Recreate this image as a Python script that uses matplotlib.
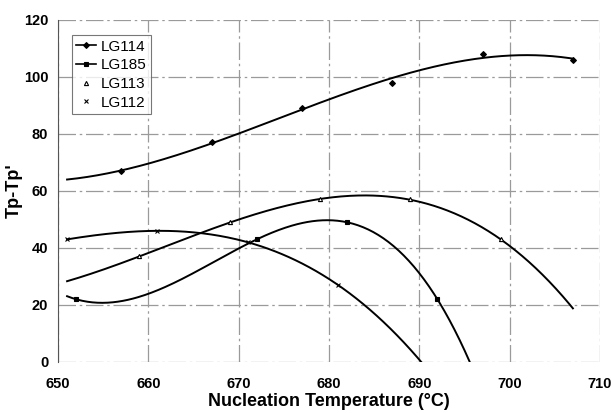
import numpy as np
import matplotlib
matplotlib.use("Agg")
import matplotlib.pyplot as plt
from matplotlib.lines import Line2D

plt.rcParams["font.family"] = ["Liberation Sans", "DejaVu Sans"]

# Data
lg114_x = [657, 667, 677, 687, 697, 707]
lg114_y = [67, 77, 89, 98, 108, 106]
lg185_x = [652, 672, 682, 692]
lg185_y = [22, 43, 49, 22]
lg113_x = [659, 669, 679, 689, 699]
lg113_y = [37, 49, 57, 57, 43]
lg112_x = [651, 661, 671, 681]
lg112_y = [43, 46, 42, 27]

series = [
    ("LG114", lg114_x, lg114_y, "D", 3, True),
    ("LG185", lg185_x, lg185_y, "s", 3.5, True),
    ("LG113", lg113_x, lg113_y, "^", 3, False),
    ("LG112", lg112_x, lg112_y, "x", 3.5, False),
]

fig = plt.figure(figsize=(6.11, 4.13), dpi=100)
ax = fig.add_axes([0.095, 0.1235, 0.887, 0.8285])

# cubic trendlines like the spreadsheet ones
xs = np.linspace(651, 707, 300)
handles = []
for name, x, y, mk, ms, show_line in series:
    coef = np.polyfit(x, y, 3)
    ax.plot(xs, np.polyval(coef, xs), color="black", lw=1.4, zorder=3)
    filled = mk != "^"
    ax.plot(x, y, ls="none", marker=mk, ms=ms, color="black",
            mfc="black" if filled else "white", mew=0.8, zorder=4)
    handles.append(Line2D([], [], color="black", lw=1.2 if show_line else 0,
                          marker=mk, ms=ms, mfc="black" if filled else "white",
                          mew=0.8, label=name))

ax.set_xlim(650, 710)
ax.set_ylim(0, 120)
ax.set_xticks(range(650, 711, 10))
ax.set_yticks(range(0, 121, 20))
ax.grid(True, color="#9a9a9a", lw=0.9, ls=(0, (14, 3, 2, 3)))
ax.set_axisbelow(True)
for s in ["top", "right", "bottom"]:
    ax.spines[s].set_visible(False)
ax.spines["left"].set_color("#555555")
ax.tick_params(length=0, labelsize=10.5, pad=7)
for lbl in ax.get_xticklabels() + ax.get_yticklabels():
    lbl.set_fontweight("bold")
ax.tick_params(axis="x", pad=11)

ax.set_xlabel("Nucleation Temperature (\u00b0C)", fontsize=13, fontweight="bold", labelpad=1)
ax.set_ylabel("Tp-Tp'", fontsize=13, fontweight="bold", labelpad=1)

leg = ax.legend(handles=handles, loc="upper left", bbox_to_anchor=(0.025, 0.955),
                fontsize=11, frameon=True, fancybox=False, handlelength=1.3,
                handletextpad=0.3, borderpad=0.3, labelspacing=0.3,
                borderaxespad=0)
leg.get_frame().set_edgecolor("#555555")
leg.get_frame().set_linewidth(0.8)

fig.savefig("out.png", dpi=100)
